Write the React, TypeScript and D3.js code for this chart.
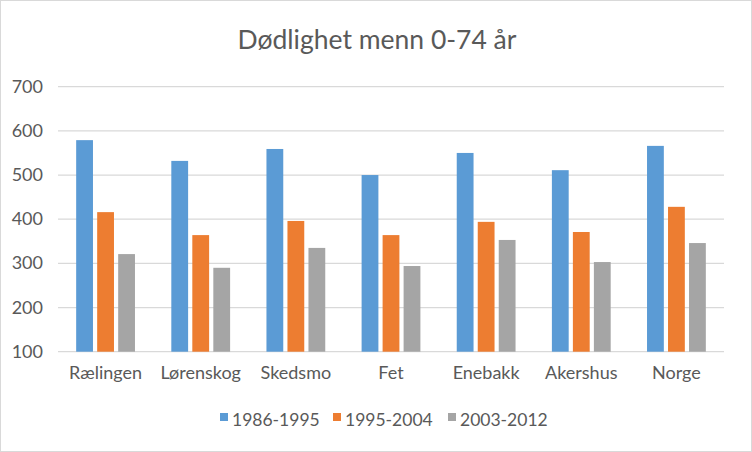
import React from "react";
import * as d3 from "d3";

const categories = ["Rælingen", "Lørenskog", "Skedsmo", "Fet", "Enebakk", "Akershus", "Norge"];
const seriesNames = ["1986-1995", "1995-2004", "2003-2012"];
const s1986 = [579, 532, 559, 500, 550, 511, 566];
const s1995 = [416, 364, 396, 364, 394, 371, 428];
const s2003 = [321, 290, 335, 294, 353, 303, 346];
const colors = ["#5b9bd5", "#ed7d31", "#a5a5a5"];
const yTicks = [100, 200, 300, 400, 500, 600, 700];

export default function App() {
  const W = 752, H = 452;
  const left = 58, right = 724, top = 86.7, bottom = 351.7;
  const font = "Lato, Carlito, Calibri, sans-serif";
  const series = [s1986, s1995, s2003];

  const x = d3.scaleBand<string>().domain(categories).range([left, right]).paddingInner(0).paddingOuter(0);
  const y = d3.scaleLinear().domain([100, 700]).range([bottom, top]);
  const bw = 16.8;
  const gap = 4.2;
  const groupW = 3 * bw + 2 * gap;

  const legendX = [220, 333, 448];

  return (
    <svg width={W} height={H} style={{ position: "absolute", left: 0, top: 0 }} fontFamily={font}>
      <rect x={0.5} y={0.5} width={W - 1} height={H - 1} fill="#fff" stroke="#d9d9d9" />
      <text x={W / 2 + 1} y={49} textAnchor="middle" fontSize={26.5} fill="#595959">
        Dødlighet menn 0-74 år
      </text>
      {yTicks.map((t) => (
        <g key={t}>
          <line x1={left} x2={right} y1={y(t)} y2={y(t)} stroke="#d9d9d9" strokeWidth={1.3} />
          <text x={43} y={y(t) + 6} textAnchor="end" fontSize={18} fill="#595959">
            {t}
          </text>
        </g>
      ))}
      {categories.map((c, i) => {
        const cx = x(c)! + x.bandwidth() / 2;
        const x0 = cx - groupW / 2;
        return (
          <g key={c}>
            {series.map((s, j) => (
              <rect
                key={j}
                x={x0 + j * (bw + gap)}
                y={y(s[i])}
                width={bw}
                height={y(100) - y(s[i])}
                fill={colors[j]}
              />
            ))}
            <text x={cx} y={379} textAnchor="middle" fontSize={18} fill="#595959">
              {c}
            </text>
          </g>
        );
      })}
      {seriesNames.map((n, j) => (
        <g key={n}>
          <rect x={legendX[j]} y={413} width={8} height={8} fill={colors[j]} />
          <text x={legendX[j] + 12} y={426} fontSize={17.5} fill="#595959">
            {n}
          </text>
        </g>
      ))}
    </svg>
  );
}
